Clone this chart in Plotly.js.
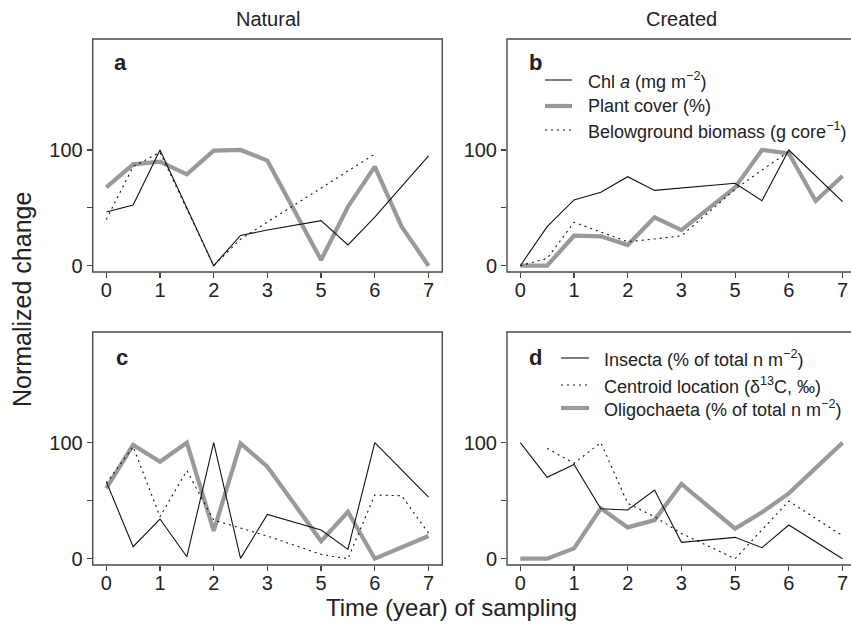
<!DOCTYPE html>
<html><head><meta charset="utf-8">
<script src="https://cdn.plot.ly/plotly-3.0.1.min.js"></script>
<style>html,body{margin:0;padding:0;background:#fff}#chart{width:851px;height:632px}</style>
</head><body><div id="chart"></div>
<script>
// sampling positions (index on the axis; half steps between labelled years)
const sampleIdx = [0, 0.5, 1, 1.5, 2, 2.5, 3, 3.5, 4, 4.5, 5, 5.5, 6];
const yearTickVals = [0, 1, 2, 3, 4, 5, 6];
const yearTickText = ['0', '1', '2', '3', '5', '6', '7'];
const valueTickVals = [0, 50, 100];
const valueTickText = ['0', '', '100'];

// Panel a – Natural
const natChl   = [46.4, 52.4, 100, null, 0, 26.2, 30.8, null, 38.9, 17.9, 42, null, 95];
const natPlant = [67.7, 87.6, 89.9, 79, 99.4, 100, 90.8, null, 4.9, 51, 85.6, 33.7, 0];
const natBelow = [40, 85.6, 98, null, 0, 23, null, null, null, null, 96.5, null, null];
// Panel b – Created
const creChl   = [0, 33.7, 56.8, 63.4, 76.9, 65.1, null, null, 71.2, 56.2, 100, null, 55.3];
const crePlant = [0, 0, 25.9, 25.4, 17.9, 41.8, 30.8, null, 67.7, 100, 97.1, 55.9, 77.5];
const creBelow = [0, 6.3, 37.5, 29.4, 20.7, 23.1, 25.9, null, 66, 82.7, 98.6, null, null];
// Panel c – Natural
const natInsecta  = [66.4, 10.3, 34.2, 1.7, 100, 0.3, 38.2, null, 24.7, 8, 100, null, 53];
const natCentroid = [65, 96.6, 36.2, 75.9, 33.3, 26.1, 19.5, null, 3.7, 0, 54.9, 54.3, 22];
const natOligo    = [60.6, 98, 83.6, 100, 23.9, 99.4, 79.3, null, 15.2, 40.5, 0, null, 19.6];
// Panel d – Created
const creInsecta  = [100, 70.1, 81.3, 43.1, 42, 59.2, 14.1, null, 18.4, 9.5, 29, null, 0];
const creCentroid = [null, 95.1, 82.2, 100, 47.7, 36.2, 21.8, null, 0, null, 49.7, null, 19.8];
const creOligo    = [0, 0, 8.9, 43.4, 27, 33.3, 64.4, null, 25.9, 40, 56.3, null, 100];

const W = 851, H = 632;
const px = x => x / W;
const py = y => 1 - y / H;

const thin  = {color: '#111', width: 1.1};
const thick = {color: '#999', width: 4.2};
const dots  = {color: '#111', width: 1.1, dash: '2px,4px'};

function tr(y, line, xa, ya) {
  return {x: sampleIdx, y: y, mode: 'lines', line: line, connectgaps: true,
          xaxis: xa, yaxis: ya, hoverinfo: 'skip', showlegend: false};
}
const data = [
  tr(natPlant, thick, 'x', 'y'), tr(natChl, thin, 'x', 'y'), tr(natBelow, dots, 'x', 'y'),
  tr(crePlant, thick, 'x2', 'y2'), tr(creChl, thin, 'x2', 'y2'), tr(creBelow, dots, 'x2', 'y2'),
  tr(natOligo, thick, 'x3', 'y3'), tr(natInsecta, thin, 'x3', 'y3'), tr(natCentroid, dots, 'x3', 'y3'),
  tr(creOligo, thick, 'x4', 'y4'), tr(creInsecta, thin, 'x4', 'y4'), tr(creCentroid, dots, 'x4', 'y4')
];

const FONT = 'Liberation Sans, Arial, sans-serif';
const tickFont = {family: FONT, size: 20, color: '#222'};
function xAx(dom, rng, anchor) {
  return {domain: dom, range: rng, anchor: anchor, tickmode: 'array', tickvals: yearTickVals,
          ticktext: yearTickText, ticks: 'outside', ticklen: 5, tickwidth: 1.2, tickcolor: '#444',
          ticklabelstandoff: -5,
          showgrid: false, zeroline: false, showline: false, tickfont: tickFont, fixedrange: true};
}
function yAx(dom, rng, anchor) {
  return {domain: dom, range: rng, anchor: anchor, tickmode: 'array', tickvals: valueTickVals,
          ticktext: valueTickText, ticks: 'outside', ticklen: 5, tickwidth: 1.2, tickcolor: '#444',
          showgrid: false, zeroline: false, showline: false, tickfont: tickFont, fixedrange: true};
}
const leftDom = [px(92.7), px(442.3)];
const rightDom = [px(507), 1];
const topDom = [py(272), py(39)];
const botDom = [py(565), py(332)];
const leftRange = [-0.253, 6.257];
const rightRange = [-0.2477, 6.158];
const topRange = [-5.44, 195.9];
const botRange = [-5.43, 195.4];

function frame(x0, y0, x1, y1) {
  return {type: 'rect', xref: 'paper', yref: 'paper', x0: px(x0), x1: px(x1), y0: py(y1), y1: py(y0),
          line: {color: '#4a4a4a', width: 1.4}, fillcolor: 'rgba(0,0,0,0)'};
}
function legLine(x0, x1, y, line) {
  return {type: 'line', xref: 'paper', yref: 'paper', x0: px(x0), x1: px(x1), y0: py(y), y1: py(y),
          line: line};
}
function txt(text, x, y, size, opts) {
  return Object.assign({text: text, xref: 'paper', yref: 'paper', x: px(x), y: py(y), showarrow: false,
          font: {family: FONT, size: size, color: '#222'}, xanchor: 'center', yanchor: 'middle'}, opts || {});
}

const layout = {
  width: W, height: H, margin: {l: 0, r: 0, t: 0, b: 0},
  paper_bgcolor: '#fff', plot_bgcolor: 'rgba(0,0,0,0)', showlegend: false,
  xaxis: xAx(leftDom, leftRange, 'y'), yaxis: yAx(topDom, topRange, 'x'),
  xaxis2: xAx(rightDom, rightRange, 'y2'), yaxis2: yAx(topDom, topRange, 'x2'),
  xaxis3: xAx(leftDom, leftRange, 'y3'), yaxis3: yAx(botDom, botRange, 'x3'),
  xaxis4: xAx(rightDom, rightRange, 'y4'), yaxis4: yAx(botDom, botRange, 'x4'),
  shapes: [
    frame(92.7, 39, 442.3, 272), frame(507, 39, 856.6, 272),
    frame(92.7, 332, 442.3, 565), frame(507, 332, 856.6, 565),
    legLine(545, 572, 80, thin), legLine(545, 572, 106, thick), legLine(545, 572, 130, dots),
    legLine(561, 589, 358, thin), legLine(561, 589, 385, dots), legLine(561, 589, 408, thick)
  ],
  annotations: [
    txt('Natural', 267.5, 19, 20), txt('Created', 681.8, 19, 20),
    txt('Time (year) of sampling', 452, 607, 24, {borderpad: 0}),
    txt('Normalized change', 22, 300, 25, {textangle: -90}),
    txt('<b>a</b>', 120, 63, 22), txt('<b>b</b>', 535, 63, 22),
    txt('<b>c</b>', 122, 357, 22), txt('<b>d</b>', 535, 357, 22),
    txt('Chl <i>a</i> (mg m<sup>−2</sup>)', 586, 80, 18, {xanchor: 'left'}),
    txt('Plant cover (%)', 586, 106, 18, {xanchor: 'left'}),
    txt('Belowground biomass (g core<sup>−1</sup>)', 586, 130, 18, {xanchor: 'left'}),
    txt('Insecta (% of total n m<sup>−2</sup>)', 602, 358, 18, {xanchor: 'left'}),
    txt('Centroid location (δ<sup>13</sup>C, ‰)', 602, 385, 18, {xanchor: 'left'}),
    txt('Oligochaeta (% of total n m<sup>−2</sup>)', 602, 408, 18, {xanchor: 'left'})
  ]
};
Plotly.newPlot('chart', data, layout, {staticPlot: true, displayModeBar: false});
</script></body></html>
